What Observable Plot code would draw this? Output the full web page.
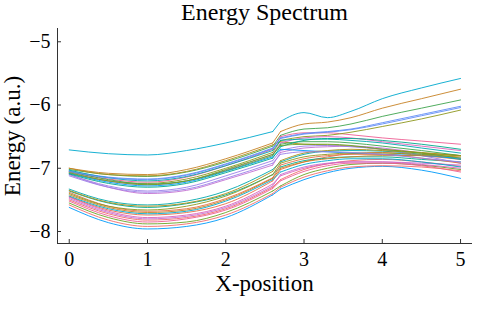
<!DOCTYPE html>
<html>
<head>
<meta charset="utf-8">
<script src="https://cdn.jsdelivr.net/npm/d3@7"></script>
<script src="https://cdn.jsdelivr.net/npm/@observablehq/plot@0.6"></script>
<style>
  html, body { margin: 0; padding: 0; background: #fff; }
  #chart { width: 481px; height: 321px; }
  #chart svg text { font-family: 'Liberation Serif', 'Times New Roman', serif; font-variant-numeric: normal; }
</style>
</head>
<body>
<div id="chart"></div>
<script>
// ---- data ----
const titleText = "Energy Spectrum";
const xLabel = "X-position";
const yLabel = "Energy (a.u.)";
const xTicks = [0, 1, 2, 3, 4, 5];
const yTicks = [-8, -7, -6, -5];
const xs = [0, 0.5, 1, 1.5, 2, 2.6, 2.7, 3, 3.3, 3.6, 4, 4.5, 5];
const jumpStart = 2.6;
const jumpEnd = 2.7;
const levels = [
  [-7.62, -7.86, -7.96, -7.92, -7.78, -7.42, -7.33, -7.18, -7.07, -7.00, -6.97, -7.03, -7.16],
  [-7.45, -7.66, -7.74, -7.70, -7.56, -7.20, -7.02, -6.90, -6.82, -6.77, -6.75, -6.80, -6.86],
  [-7.02, -7.10, -7.13, -7.06, -6.90, -6.65, -6.48, -6.38, -6.36, -6.30, -6.18, -6.05, -5.92],
  [-7.10, -7.30, -7.40, -7.35, -7.18, -6.95, -6.75, -6.68, -6.66, -6.65, -6.68, -6.76, -6.85],
  [-7.00, -7.10, -7.12, -7.05, -6.88, -6.63, -6.58, -6.62, -6.63, -6.65, -6.70, -6.75, -6.80],
  [-7.33, -7.52, -7.58, -7.52, -7.36, -7.02, -6.90, -6.78, -6.73, -6.72, -6.73, -6.78, -6.86],
  [-7.05, -7.17, -7.22, -7.14, -6.96, -6.70, -6.50, -6.44, -6.44, -6.47, -6.52, -6.57, -6.62],
  [-7.00, -7.08, -7.10, -7.02, -6.85, -6.60, -6.42, -6.30, -6.27, -6.20, -6.05, -5.90, -5.75],
  [-7.36, -7.55, -7.62, -7.56, -7.42, -7.10, -6.98, -6.88, -6.84, -6.82, -6.82, -6.86, -6.90],
  [-7.08, -7.20, -7.24, -7.17, -7.00, -6.75, -6.56, -6.50, -6.48, -6.43, -6.34, -6.22, -6.08],
  [-6.71, -6.77, -6.79, -6.72, -6.60, -6.42, -6.26, -6.12, -6.20, -6.10, -5.90, -5.73, -5.58],
  [-7.10, -7.28, -7.36, -7.30, -7.12, -6.88, -6.72, -6.65, -6.64, -6.66, -6.70, -6.80, -6.92],
  [-7.04, -7.14, -7.17, -7.10, -6.93, -6.68, -6.52, -6.45, -6.42, -6.38, -6.28, -6.15, -6.02],
  [-7.50, -7.72, -7.82, -7.78, -7.64, -7.30, -7.18, -7.02, -6.93, -6.88, -6.86, -6.90, -6.97],
  [-7.06, -7.20, -7.26, -7.20, -7.03, -6.78, -6.60, -6.52, -6.50, -6.52, -6.58, -6.65, -6.72],
  [-7.55, -7.78, -7.88, -7.85, -7.70, -7.36, -7.28, -7.10, -7.00, -6.94, -6.92, -6.95, -7.02],
  [-7.08, -7.22, -7.28, -7.22, -7.05, -6.82, -6.70, -6.72, -6.74, -6.76, -6.78, -6.80, -6.84],
  [-7.38, -7.60, -7.68, -7.64, -7.48, -7.15, -6.95, -6.85, -6.80, -6.78, -6.78, -6.84, -6.92],
  [-7.05, -7.18, -7.25, -7.20, -7.04, -6.80, -6.62, -6.58, -6.58, -6.60, -6.65, -6.72, -6.80],
  [-7.48, -7.70, -7.80, -7.76, -7.62, -7.28, -7.10, -6.98, -6.92, -6.90, -6.90, -6.92, -6.95],
  [-7.35, -7.54, -7.60, -7.55, -7.40, -7.05, -6.88, -6.76, -6.72, -6.70, -6.72, -6.76, -6.80],
  [-7.03, -7.15, -7.20, -7.13, -6.96, -6.72, -6.56, -6.54, -6.54, -6.56, -6.60, -6.68, -6.76],
  [-7.52, -7.75, -7.85, -7.80, -7.66, -7.32, -7.20, -7.05, -6.96, -6.92, -6.92, -6.96, -7.06],
  [-7.42, -7.62, -7.70, -7.66, -7.50, -7.16, -7.00, -6.90, -6.85, -6.82, -6.80, -6.80, -6.82],
  [-7.09, -7.24, -7.30, -7.24, -7.07, -6.84, -6.66, -6.56, -6.53, -6.53, -6.56, -6.62, -6.70],
  [-7.40, -7.60, -7.66, -7.60, -7.44, -7.10, -6.92, -6.82, -6.78, -6.76, -6.76, -6.78, -6.80],
  [-7.44, -7.64, -7.72, -7.68, -7.52, -7.18, -7.06, -6.94, -6.88, -6.85, -6.85, -6.90, -6.98],
  [-7.12, -7.30, -7.38, -7.33, -7.16, -6.92, -6.78, -6.74, -6.74, -6.75, -6.78, -6.84, -6.90],
  [-7.05, -7.15, -7.18, -7.11, -6.94, -6.69, -6.53, -6.46, -6.43, -6.39, -6.30, -6.17, -6.04],
  [-7.58, -7.82, -7.92, -7.88, -7.74, -7.40, -7.30, -7.14, -7.04, -6.98, -6.96, -6.98, -7.04],
  [-7.46, -7.68, -7.78, -7.74, -7.60, -7.25, -7.12, -7.00, -6.93, -6.90, -6.90, -6.94, -7.00],
  [-7.07, -7.20, -7.26, -7.20, -7.02, -6.78, -6.64, -6.62, -6.62, -6.64, -6.70, -6.76, -6.84]
];
const palette = ["#009AFA", "#E36F47", "#3EA44E", "#C371D2", "#AC8E18", "#00A9AD",
  "#ED5E93", "#C68225", "#00A98D", "#8E971E", "#00A9CD", "#9B7FE9",
  "#618DF6", "#F16C6B", "#DC63BB", "#6CA325"];

// ---- table ----
const table = levels.flatMap((row, i) => row.map((v, j) => ({x: xs[j], y: v, s: i})));
const before = table.filter(d => d.x <= jumpStart);
const jump = table.filter(d => d.x >= jumpStart && d.x <= jumpEnd);
const after = table.filter(d => d.x >= jumpEnd);

const font = "'Liberation Serif', 'Times New Roman', serif";
const fmt = d3.format("d");
const lineOpts = (curve) => ({x: "x", y: "y", z: "s", stroke: d => palette[d.s % palette.length],
  curve, strokeWidth: 1, strokeOpacity: 0.9});

const chart = Plot.plot({
  width: 481,
  height: 321,
  marginTop: 28,
  marginLeft: 57,
  marginRight: 10,
  marginBottom: 78,
  style: {fontFamily: font, fontSize: "20px", color: "#000", background: "#fff", overflow: "visible"},
  x: {domain: [-0.15, 5.14]},
  y: {domain: [-8.19, -4.79]},
  marks: [
    Plot.line(before, lineOpts("monotone-x")),
    Plot.line(jump, lineOpts("linear")),
    Plot.line(after, lineOpts("monotone-x")),
    Plot.frame({anchor: "left", stroke: "#333"}),
    Plot.frame({anchor: "bottom", stroke: "#333"}),
    Plot.tickX(xTicks, {x: d => d, insetTop: 211, stroke: "#333"}),
    Plot.tickY(yTicks, {y: d => d, insetRight: 410, stroke: "#333"}),
    Plot.axisX(xTicks, {tickSize: 0, tickPadding: 8, tickFormat: fmt, label: null, fontSize: 20, fontFamily: font}),
    Plot.axisY(yTicks, {tickSize: 0, tickPadding: 7, tickFormat: fmt, label: null, fontSize: 20, fontFamily: font}),
    Plot.text([titleText], {frameAnchor: "top", text: d => d, dy: -16, lineAnchor: "middle",
      textAnchor: "middle", fontSize: 24, fontFamily: font}),
    Plot.text([xLabel], {frameAnchor: "bottom", text: d => d, dy: 40, lineAnchor: "middle",
      textAnchor: "middle", fontSize: 23, fontFamily: font}),
    Plot.text([yLabel], {frameAnchor: "left", text: d => d, dx: -45, rotate: -90, lineAnchor: "middle",
      textAnchor: "middle", fontSize: 23, fontFamily: font})
  ]
});
document.getElementById("chart").appendChild(chart);
</script>
</body>
</html>
